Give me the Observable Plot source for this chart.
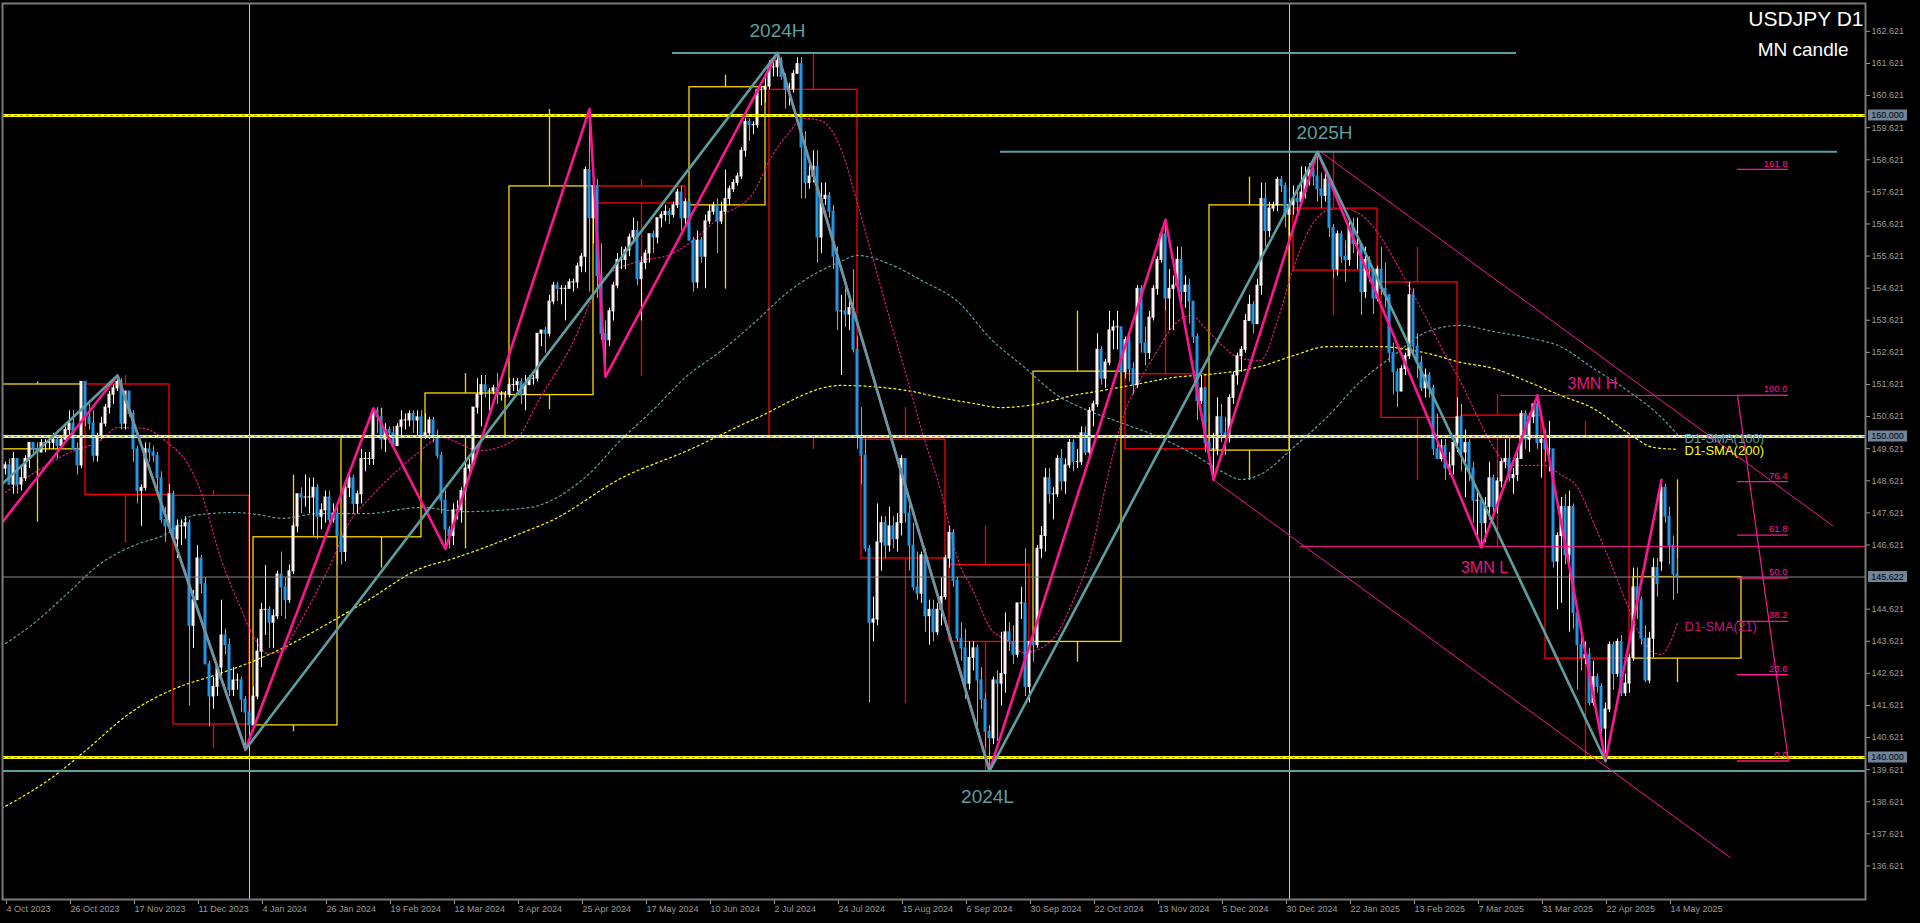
<!DOCTYPE html>
<html><head><meta charset="utf-8">
<script src="https://cdn.jsdelivr.net/npm/d3@7"></script>
<script src="https://cdn.jsdelivr.net/npm/@observablehq/plot@0.6"></script>
<style>
html,body{margin:0;padding:0;background:#000;overflow:hidden;}
#chart svg{display:block;}
</style></head><body><div id="chart"></div>
<script>
// ---------- DAILY CANDLES [open, high, low, close] ----------
const oct2023 = [[149.0,149.2,148.8,149.1],[149.1,149.3,148.5,148.5],[148.5,149.5,148.2,149.3],
[149.3,149.3,148.2,148.5],[148.5,149.1,148.3,148.7],[148.7,149.4,148.6,149.3],[149.3,149.8,149.0,149.8],[149.8,149.8,149.4,149.6],
[149.6,149.8,149.3,149.5],[149.5,149.9,149.5,149.8],[149.8,149.9,149.5,149.8],[149.8,150.0,149.6,149.8],[149.8,150.1,149.6,149.9],
[149.9,150.0,149.3,149.7],[149.7,150.0,149.6,149.9],[149.9,150.3,149.8,150.2],[150.2,150.8,150.0,150.4],[150.4,150.8,149.6,149.6],
[149.6,149.8,148.8,149.1],[149.1,151.7,149.0,151.7]];
const nov2023 = [[151.7,151.7,150.3,150.6],[150.6,151.0,150.2,150.4],[150.4,150.8,149.2,149.4],
[149.4,150.1,149.2,150.0],[150.0,150.6,149.9,150.4],[150.4,151.0,150.3,150.9],[150.9,151.4,150.7,151.3],[151.3,151.6,151.0,151.5],
[151.5,151.9,151.4,151.7],[151.7,151.8,150.2,150.4],[150.4,151.4,150.2,151.4],[151.4,151.4,150.6,150.7],[150.7,150.8,149.2,149.6],
[149.6,149.7,147.9,148.3],[148.3,148.5,147.2,148.4],[148.4,149.8,148.3,149.6],[149.6,149.8,149.2,149.5],[149.5,149.7,149.2,149.4],
[149.4,149.5,148.3,148.7],[148.7,148.9,147.3,147.4],[147.4,147.8,146.7,147.2],[147.2,148.5,147.1,148.2]];
const dec2023 = [[148.2,148.3,146.7,146.8],
[146.8,147.4,146.2,147.2],[147.2,147.4,146.6,147.2],[147.2,147.5,146.8,147.3],[147.3,147.4,141.6,144.1],[144.1,145.2,143.4,144.9],
[144.9,146.6,144.9,146.2],[146.2,146.3,145.1,145.4],[145.4,145.6,142.9,142.9],[142.9,143.0,140.95,141.9],[141.9,142.5,141.5,142.2],
[142.2,142.9,141.9,142.8],[142.8,144.9,142.5,143.8],[143.8,144.0,143.2,143.5],[143.5,143.7,141.9,142.1],[142.1,142.8,141.9,142.4],
[142.4,142.6,142.1,142.4],[142.4,142.5,141.4,141.8],[141.8,141.9,140.25,141.4],[141.4,141.4,140.9,141.0]];
const jan2024 = [[141.0,142.2,140.8,141.9],[141.9,143.7,141.8,143.3],[143.3,144.8,142.8,144.6],[144.6,145.98,143.8,144.6],
[144.6,144.7,143.4,144.2],[144.2,144.6,143.4,144.4],[144.4,145.8,144.3,145.7],[145.7,146.4,144.4,145.3],[145.3,145.6,144.3,144.9],
[144.9,146.0,144.8,145.8],[145.8,147.3,145.7,147.2],[147.2,148.2,147.0,148.2],[148.2,148.4,147.6,148.1],[148.1,148.8,147.8,148.1],
[148.1,148.7,147.6,148.1],[148.1,148.7,146.9,148.4],[148.4,148.5,146.8,147.5],[147.5,147.9,147.1,147.7],[147.7,148.3,147.3,148.1],
[148.1,148.3,147.2,147.4],[147.4,147.9,147.3,147.6],[147.6,147.8,146.0,146.9]];
const feb2024 = [[146.9,147.0,146.0,146.4],[146.4,148.6,146.1,148.4],
[148.4,148.9,148.1,148.7],[148.7,148.8,147.6,147.9],[147.9,148.3,147.6,148.2],[148.2,149.6,147.9,149.3],[149.3,149.5,148.9,149.3],
[149.3,149.5,149.1,149.3],[149.3,150.9,149.1,150.8],[150.8,150.9,150.1,150.6],[150.6,150.7,149.6,149.9],[149.9,150.4,149.5,150.2],
[150.2,150.3,149.8,150.1],[150.1,150.3,149.6,149.7],[149.7,150.4,149.7,150.3],[150.3,150.8,150.0,150.5],[150.5,150.7,150.2,150.5],
[150.5,150.8,150.3,150.7],[150.7,150.8,150.1,150.5],[150.5,150.8,150.0,150.6],[150.6,150.8,149.2,150.0]];
const mar2024 = [[150.0,150.7,149.9,150.1],
[150.1,150.6,149.9,150.5],[150.5,150.6,149.8,150.0],[150.0,150.2,149.3,149.4],[149.4,149.5,147.6,148.0],[148.0,148.3,146.5,147.1],
[147.1,147.2,146.5,146.9],[146.9,147.9,146.6,147.7],[147.7,148.0,147.4,147.7],[147.7,148.4,147.3,148.3],[148.3,149.2,148.0,149.0],
[149.0,149.3,148.8,149.1],[149.1,150.9,149.1,150.9],[150.9,151.8,150.7,151.3],[151.3,151.9,150.3,151.6],[151.6,151.9,151.2,151.4],
[151.4,151.5,150.8,151.4],[151.4,151.6,151.3,151.5],[151.5,151.97,151.0,151.3],[151.3,151.4,151.1,151.3],[151.3,151.4,151.2,151.3]];
const apr2024 = [[151.3,151.8,151.2,151.6],[151.6,151.8,151.4,151.6],[151.6,151.8,151.4,151.7],[151.7,151.8,151.0,151.3],[151.3,151.9,150.8,151.6],
[151.6,151.9,151.6,151.8],[151.8,151.9,151.6,151.8],[151.8,153.2,151.7,153.2],[153.2,153.3,152.8,153.3],[153.3,153.4,152.6,153.2],
[153.2,154.4,153.1,154.2],[154.2,154.8,154.1,154.7],[154.7,154.8,154.2,154.6],[154.6,154.7,154.1,154.6],[154.6,154.7,153.6,154.6],
[154.6,154.9,154.6,154.8],[154.8,154.9,154.5,154.8],[154.8,155.4,154.6,155.3],[155.3,155.7,155.1,155.6],[155.6,158.4,155.1,158.3],
[158.3,160.2,154.5,156.8],[156.8,157.9,156.0,157.8]];
const may2024 = [[157.8,158.0,154.3,155.0],[155.0,156.0,153.0,153.2],[153.2,153.6,151.86,153.0],
[153.0,154.0,152.8,153.9],[153.9,154.8,153.6,154.7],[154.7,155.7,154.6,155.5],[155.5,155.9,155.2,155.5],[155.5,155.9,155.2,155.8],
[155.8,156.3,155.6,156.2],[156.2,156.8,156.0,156.4],[156.4,156.7,154.7,154.9],[154.9,155.6,153.6,155.4],[155.4,155.8,155.2,155.7],
[155.7,156.3,155.4,156.3],[156.3,156.4,155.7,156.2],[156.2,156.8,156.0,156.8],[156.8,157.0,156.5,156.9],[156.9,157.2,156.7,157.0],
[157.0,157.1,156.6,156.9],[156.9,157.3,156.8,157.2],[157.2,157.7,157.1,157.6],[157.6,157.8,156.4,156.8],[156.8,157.4,156.6,157.3]];
const jun2024 = [[157.3,157.4,156.1,156.1],[156.1,156.2,154.5,154.8],[154.8,156.4,154.6,156.1],[156.1,156.2,155.4,155.6],[155.6,156.9,154.6,156.7],
[156.7,157.2,156.6,157.0],[157.0,157.3,156.9,157.2],[157.2,157.4,155.7,156.7],[156.7,157.3,156.6,157.0],[157.0,158.3,156.9,157.4],
[157.4,157.8,157.2,157.7],[157.7,158.0,157.6,157.9],[157.9,158.2,157.8,158.1],[158.1,159.0,158.0,158.9],[158.9,159.9,158.7,159.8],
[159.8,159.9,159.2,159.7],[159.7,159.8,159.4,159.7],[159.7,160.8,159.6,160.8],[160.8,160.9,160.3,160.8],[160.8,161.3,160.4,160.9]];
const jul2024 = [[160.9,161.7,160.8,161.5],[161.5,161.7,161.2,161.5],[161.5,161.95,161.2,161.7],[161.7,161.8,161.1,161.2],[161.2,161.3,160.2,160.8],
[160.8,161.0,160.3,160.8],[160.8,161.4,160.7,161.3],[161.3,161.8,161.3,161.6],[161.6,161.8,157.4,159.0],[159.0,159.5,157.4,157.9],
[157.9,158.5,157.7,158.1],[158.1,158.9,157.9,158.4],[158.4,158.9,155.4,156.2],[156.2,157.9,155.7,157.4],[157.4,157.9,157.2,157.5],
[157.5,157.6,156.8,157.0],[157.0,157.2,155.2,155.6],[155.6,155.9,153.3,153.9],[153.9,154.4,151.9,153.9],[153.9,154.6,153.4,153.8],
[153.8,154.3,153.3,154.0],[154.0,155.2,152.6,152.7],[152.7,153.1,149.6,150.0]];
const aug2024 = [[150.0,150.9,148.5,149.4],[149.4,149.9,146.4,146.5],
[146.5,146.6,141.7,144.2],[144.2,145.0,143.6,144.3],[144.3,147.9,144.1,146.7],[146.7,147.5,145.8,147.3],[147.3,147.5,146.2,146.6],
[146.6,147.8,146.4,147.2],[147.2,147.5,146.5,146.8],[146.8,147.6,146.4,147.3],[147.3,149.4,146.9,149.3],[149.3,149.3,147.3,147.6],
[147.6,148.0,145.8,146.6],[146.6,147.3,145.2,145.3],[145.3,146.4,144.9,145.1],[145.1,146.4,144.8,146.3],[146.3,146.5,143.9,144.4],
[144.4,144.9,143.5,144.6],[144.6,144.9,143.6,143.9],[143.9,144.8,143.8,144.6],[144.6,145.6,144.1,145.0],[145.0,146.3,144.9,146.2]];
const sep2024 = [[146.2,147.2,145.9,147.0],[147.0,147.1,145.3,145.5],[145.5,145.6,143.6,143.7],[143.7,144.2,143.0,143.4],[143.4,144.0,141.8,142.3],
[142.3,143.6,142.1,143.1],[143.1,143.6,142.7,143.4],[143.4,143.5,140.7,142.4],[142.4,142.8,141.5,141.8],[141.8,142.0,140.3,140.8],
[140.8,141.0,139.58,140.6],[140.6,142.5,140.4,142.4],[142.4,142.7,140.5,142.3],[142.3,143.9,141.6,142.6],[142.6,144.5,142.0,143.9],
[143.9,144.2,143.3,143.6],[143.6,144.1,142.9,143.2],[143.2,144.8,143.1,144.8],[144.8,145.3,144.3,144.8],[144.8,146.5,141.9,142.2],
[142.2,143.6,141.7,143.6]];
const oct2024 = [[143.6,144.0,142.97,143.5],[143.5,146.6,143.4,146.5],[146.5,147.2,146.2,146.9],[146.9,149.0,146.4,148.7],
[148.7,149.0,147.9,148.2],[148.2,148.4,147.4,148.2],[148.2,149.4,148.1,149.3],[149.3,149.6,148.3,148.6],[148.6,149.3,148.2,149.1],
[149.1,149.9,149.0,149.8],[149.8,149.9,148.9,149.2],[149.2,149.6,149.0,149.2],[149.2,150.3,149.1,150.1],[150.1,150.3,149.4,149.5],
[149.5,150.9,149.3,150.8],[150.8,151.1,150.3,151.0],[151.0,153.2,150.9,152.7],[152.7,152.8,151.6,151.8],[151.8,152.4,151.5,152.3],
[152.3,153.9,152.2,153.3],[153.3,153.6,152.7,153.4],[153.4,153.9,152.7,153.4],[153.4,153.4,151.6,152.0]];
const nov2024 = [[152.0,153.1,151.8,153.0],
[153.0,153.2,151.7,152.1],[152.1,152.3,151.3,151.6],[151.6,154.7,151.5,154.6],[154.6,154.7,152.6,152.9],[152.9,153.4,152.2,152.6],
[152.6,153.9,152.4,153.7],[153.7,154.7,153.6,154.6],[154.6,155.6,154.4,155.5],[155.5,156.4,155.4,156.3],[156.3,156.75,153.9,154.3],
[154.3,155.2,153.3,154.6],[154.6,155.0,153.3,154.7],[154.7,155.9,154.6,155.5],[155.5,155.9,153.9,154.5],[154.5,155.0,154.0,154.7],
[154.7,154.9,153.5,154.2],[154.2,154.2,152.9,153.1],[153.1,153.2,150.5,151.1],[151.1,151.9,151.0,151.5],[151.5,151.5,149.5,149.8]];
const dec2024 = [[149.8,150.7,149.6,149.6],[149.6,150.1,148.65,149.6],[149.6,151.2,149.4,150.6],[150.6,151.0,149.8,150.1],[150.1,150.6,149.4,150.0],
[150.0,151.3,149.8,151.2],[151.2,152.0,151.0,151.9],[151.9,152.6,151.6,152.5],[152.5,152.8,152.0,152.7],[152.7,153.8,152.6,153.6],
[153.6,154.4,153.6,154.1],[154.1,154.2,153.2,153.5],[153.5,154.9,153.5,154.7],[154.7,157.9,154.4,157.4],[157.4,157.9,155.9,156.4],
[156.4,157.3,156.2,157.1],[157.1,157.3,157.0,157.2],[157.2,158.08,157.0,158.0],[158.0,158.1,157.6,157.8],[157.8,157.9,156.5,156.9],
[156.9,157.4,156.2,157.2]];
const jan2025 = [[157.2,157.8,156.9,157.4],[157.4,157.8,157.0,157.3],
[157.3,158.4,157.2,157.6],[157.6,158.4,157.4,158.1],[158.1,158.5,157.8,158.3],[158.3,158.5,157.8,158.1],[158.1,158.87,157.3,157.7],
[157.7,158.2,157.1,157.5],[157.5,158.2,157.3,158.0],[158.0,158.1,156.2,156.5],[156.5,156.6,154.9,155.2],[155.2,156.4,155.0,156.3],
[156.3,156.4,155.4,155.6],[155.6,156.1,154.8,155.5],[155.5,156.8,155.3,156.5],[156.5,156.8,155.7,156.0],[156.0,156.8,155.2,156.0],
[156.0,156.0,153.77,154.5],[154.5,155.9,154.3,155.5],[155.5,155.6,154.8,155.2],[155.2,155.2,153.8,154.3],[154.3,155.3,154.2,155.2]];
const feb2025 = [[155.2,155.89,154.4,154.6],[154.6,155.4,154.0,154.4],[154.4,154.4,152.3,152.6],[152.6,152.9,151.3,152.0],[152.0,152.1,150.9,151.4],
[151.4,152.2,151.4,152.1],[152.1,152.6,151.9,152.5],[152.5,154.8,152.4,154.4],[154.4,154.6,152.6,152.8],[152.8,153.2,151.8,152.3],
[152.3,152.5,151.4,151.5],[151.5,152.1,151.2,151.9],[151.9,152.0,151.2,151.5],[151.5,151.6,149.4,149.6],[149.6,150.7,149.3,149.3],
[149.3,149.9,149.2,149.7],[149.7,149.9,148.63,149.0],[149.0,149.5,148.8,149.1],[149.1,150.0,148.8,149.8],[149.8,151.2,149.5,150.6]];
const mar2025 = [[150.6,151.0,148.9,149.5],
[149.5,150.2,148.1,149.8],[149.8,149.9,148.6,149.0],[149.0,149.2,147.3,148.0],[148.0,148.3,146.9,148.0],[148.0,148.1,146.54,147.3],
[147.3,148.1,146.7,147.8],[147.8,149.2,147.4,148.7],[148.7,148.8,147.4,147.8],[147.8,148.7,147.6,148.6],[148.6,149.3,148.4,149.2],
[149.2,149.9,149.0,149.3],[149.3,150.0,148.6,148.7],[148.7,149.0,148.2,148.8],[148.8,149.5,148.6,149.3],[149.3,150.8,149.3,150.7],
[150.7,150.8,149.6,149.9],[149.9,150.7,149.5,150.6],[150.6,151.0,150.4,151.0],[151.0,151.28,149.6,149.8],[149.8,150.0,148.7,149.9]];
const apr2025 = [[149.9,150.2,149.2,149.6],[149.6,150.47,148.9,149.6],[149.6,149.6,145.9,146.1],[146.1,147.0,144.6,146.9],
[146.9,148.1,144.8,147.8],[147.8,148.2,146.0,146.3],[146.3,148.3,143.9,147.8],[147.8,147.9,144.0,144.5],[144.5,144.6,142.1,143.5],
[143.5,143.9,142.7,143.1],[143.1,143.6,142.9,143.2],[143.2,143.4,141.6,141.7],[141.7,143.0,141.6,142.5],[142.5,142.6,142.0,142.2],
[142.2,142.3,140.6,140.9],[140.9,141.7,139.89,141.5],[141.5,143.6,141.4,143.5],[143.5,143.6,142.1,142.6],[142.6,143.7,142.5,143.6],
[143.6,143.8,141.9,142.0],[142.0,142.6,141.9,142.3],[142.3,143.2,142.0,143.1]];
const may2025 = [[143.1,145.9,143.0,145.3],[145.3,145.9,144.3,144.9],
[144.9,145.0,143.5,143.7],[143.7,144.1,142.33,142.4],[142.4,143.9,142.3,143.7],[143.7,146.2,143.1,145.9],[145.9,146.2,145.0,145.4],
[146.1,148.65,145.8,148.4],[148.4,148.5,147.3,147.5],[147.5,147.8,146.0,146.6],[146.6,146.9,144.9,145.7],[145.7,146.2,145.1,145.622]];

// ---------- MONTHLY CANDLES ("MN candle") ----------
const monthKeys = ["2023-10","2023-11","2023-12","2024-01","2024-02","2024-03","2024-04","2024-05","2024-06","2024-07","2024-08","2024-09","2024-10","2024-11","2024-12","2025-01","2025-02","2025-03","2025-04","2025-05"];
const mOpen  = [149.6,151.62,148.15,141.0,146.86,149.98,151.29,157.79,157.2,160.8,149.9,146.0,143.6,151.94,149.56,157.1,154.8,150.65,149.99,143.08];
const mHigh  = [151.7,151.9,148.32,148.8,150.88,151.96,160.19,158.0,161.26,161.94,150.9,147.21,153.9,156.76,158.08,158.87,155.89,151.32,150.47,148.65];
const mLow   = [147.33,146.68,140.27,140.8,145.9,146.5,150.84,151.87,154.59,149.6,141.68,139.6,142.97,149.53,148.63,153.77,148.63,146.57,139.89,142.33];
const mClose = [151.62,148.18,141.03,146.86,149.98,151.34,157.79,157.26,160.88,149.98,146.2,143.6,152.02,149.6,157.2,155.17,150.58,149.95,143.08,145.62];

// ---------- MOVING AVERAGES [bar index, value] ----------
const sma21 = [[0,148.26],[7,148.85],[15.5,149.47],[23.75,149.88],[28,150.28],[34.5,150.25],[40.5,149.81],[45.5,149.16],[48.75,148.32],[53.75,146.23],[58.75,144.67],[61.25,143.96],[65.5,143.24],[69.5,143.33],[72,143.86],[76.25,144.8],[80.5,145.83],[86.25,147.38],[90.5,148.01],[98.75,149.03],[103.75,149.56],[108.75,149.97],[118.75,149.56],[128,149.97],[133,151.06],[141.25,152.77],[149.5,154.92],[158,155.45],[166.25,155.67],[170.5,155.98],[178.75,156.85],[187,157.6],[191.25,158.66],[195.5,159.41],[199.5,159.91],[203.75,159.84],[208.75,159.0],[213,157.26],[217,155.48],[221.25,153.58],[225.5,151.78],[229.5,150.0],[233.75,148.35],[238,146.2],[242,145.17],[246.25,144.02],[250.5,143.64],[254.5,143.27],[258.75,143.4],[263,143.89],[267,144.92],[271.25,146.32],[275.5,148.72],[279.5,150.65],[283.75,151.78],[288,152.68],[292,153.46],[296.25,153.77],[300.5,153.3],[304.5,152.8],[308.75,152.43],[313.75,152.37],[318,153.61],[322,155.26],[326.25,156.51],[330.5,157.04],[334.5,157.1],[338.75,156.92],[343,156.36],[347,155.55],[351.25,154.58],[355.5,153.61],[359.5,152.65],[363.75,151.71],[368,150.62],[372,149.66],[376.25,149.1],[380.5,149.1],[384.5,149.1],[388.75,148.82],[393,148.41],[397,147.32],[401.25,146.07],[405.5,144.74],[409.5,143.61],[413.75,143.21],[418,144.17]];
const sma100 = [[0,143.55],[7,144.17],[15.5,145.11],[23.75,146.04],[32,146.6],[40.5,146.98],[47,147.54],[57,147.63],[61.25,147.6],[69.5,147.45],[78,147.6],[90.5,147.6],[103.75,147.79],[114.5,147.66],[131.25,147.79],[137,148.04],[145.5,148.79],[153.75,149.88],[162,150.84],[170.5,151.9],[178.75,152.65],[187,153.52],[195.5,154.49],[208.75,155.45],[213,155.64],[221.25,155.36],[229.5,154.83],[238,154.21],[246.25,153.05],[254.5,152.18],[263,151.28],[271.25,150.78],[279.5,150.4],[288,150.0],[296.25,149.5],[304.5,148.88],[308.75,148.66],[313.75,148.82],[322,149.66],[330.5,150.62],[338.75,151.71],[347,152.52],[355.5,153.27],[363.75,153.46],[372,153.27],[380.5,153.08],[388.75,152.8],[397,152.12],[405.5,151.43],[413.75,150.62],[418,150.06]];
const sma200 = [[-1,138.41],[13,139.5],[19.5,140.16],[32,141.46],[43,142.18],[52,142.55],[60.5,142.93],[68,143.33],[82,144.27],[90.5,144.89],[103.75,145.89],[111.25,146.17],[128.75,146.98],[137,147.41],[153.75,148.69],[170.5,149.56],[187,150.53],[208.75,151.59],[225.5,151.43],[233.75,151.21],[242,151.03],[248.75,150.9],[258.75,151.03],[267,151.28],[275.5,151.46],[283.75,151.65],[292,151.84],[300.5,151.93],[313.75,152.18],[322,152.52],[330.5,152.8],[343,152.8],[355.5,152.59],[363.75,152.31],[372,152.12],[380.5,151.71],[388.75,151.28],[397,150.87],[405.5,150.12],[412,149.66],[418,149.6]];

// ---------- ZIGZAGS [bar index, price] ----------
const zigzagPink = [[-1,147.3],[28,151.9],[60,140.25],[92,150.88],[110,146.5],[146,160.2],[150,151.86],[193,161.95],[246,139.58],[290,156.75],[302,148.65],[328,158.87],[369,146.54],[383,151.28],[400,139.89],[414,148.65]];
const zigzagTeal = [[-1,148.5],[28,151.9],[60,140.25],[193,161.95],[246,139.58],[328,158.87],[400,139.89]];

// ---------- LEVELS & ANNOTATIONS ----------
const roundLevels = [160, 150, 140];
const bidPrice = 145.622;
const low2024 = {name: "2024L", p: 139.58, at: 246};
const high2024 = {name: "2024H", p: 161.95, i1: 166.75, i2: 377.75, at: 193};
const high2025 = {name: "2025H", p: 158.87, i1: 248.75, i2: 458, at: 328};
const mnHigh = {name: "3MN H", p: 151.28, i1: 373.75, i2: 445.75, at: 383};
const mnLow = {name: "3MN L", p: 146.57, i1: 323.75, i2: 465, at: 369};
const channel = [{i1: 329, p1: 158.85, i2: 457, p2: 147.2}, {i1: 302, p1: 148.65, i2: 431.25, p2: 136.88}];
const fibLevels = [0, 23.6, 38.2, 50, 61.8, 76.4, 100, 161.8];
const fibLow = 139.89, fibHigh = 151.28, fibI1 = 433, fibI2 = 445.75;
const yearStarts = ["2024-01-01", "2025-01-01"];
const xTickLabels = ["4 Oct 2023","26 Oct 2023","17 Nov 2023","11 Dec 2023","4 Jan 2024","26 Jan 2024","19 Feb 2024","12 Mar 2024","3 Apr 2024","25 Apr 2024","17 May 2024","10 Jun 2024","2 Jul 2024","24 Jul 2024","15 Aug 2024","6 Sep 2024","30 Sep 2024","22 Oct 2024","13 Nov 2024","5 Dec 2024","30 Dec 2024","22 Jan 2025","13 Feb 2025","7 Mar 2025","31 Mar 2025","22 Apr 2025","14 May 2025"];
const yTicks = [136.621,137.621,138.621,139.621,140.621,141.621,142.621,143.621,144.621,146.621,147.621,148.621,149.621,150.621,151.621,152.621,153.621,154.621,155.621,156.621,157.621,158.621,159.621,160.621,161.621,162.621];
const priceTags = [160, 150, 140, 145.622];

// ---------- BUILD ----------
const W = 1920, H = 923, ML = 2, MR = 55, MT = 3, MB = 24;
const DAY = 864e5;
const calendar = [];
for (let t = Date.UTC(2023, 9, 2), k = -2; t <= Date.UTC(2025, 4, 16); t += DAY) {
  const d = new Date(t), wd = d.getUTCDay(), m = d.getUTCMonth(), dd = d.getUTCDate();
  if (wd === 0 || wd === 6 || (m === 11 && dd === 25) || (m === 0 && dd === 1)) continue;
  calendar.push({date: d, i: k++});
}
const daily = [].concat(oct2023, nov2023, dec2023, jan2024, feb2024, mar2024, apr2024, may2024, jun2024, jul2024, aug2024, sep2024, oct2024, nov2024, dec2024, jan2025, feb2025, mar2025, apr2025, may2025);
const candles = daily.map((r, j) => ({i: j, o: r[0], h: r[1], l: r[2], c: r[3]}));
const bull = candles.filter(d => d.c >= d.o), bear = candles.filter(d => d.c < d.o);

const months = monthKeys.map((key, j) => {
  const [yy, mm] = key.split("-").map(Number);
  const inMonth = calendar.filter(b => b.date.getUTCFullYear() === yy && b.date.getUTCMonth() === mm - 1);
  const last = inMonth[inMonth.length - 1];
  let i2 = last.i;
  if (j === monthKeys.length - 1) i2 += Math.round((Date.UTC(yy, mm, 1) - last.date) / DAY);
  const dim = new Date(Date.UTC(yy, mm, 0)).getUTCDate();
  const midDay = Math.floor((1 + dim) / 2);
  const mid = inMonth.filter(b => b.date.getUTCDate() <= midDay).pop().i;
  const o = mOpen[j], c = mClose[j];
  return {i1: inMonth[0].i, i2, mid, o, h: mHigh[j], l: mLow[j], c, top: Math.max(o, c), bot: Math.min(o, c), up: c >= o};
});
const yearBars = yearStarts.map(s => calendar.filter(b => b.date < new Date(s + "T00:00:00Z")).pop().i);
const fibs = fibLevels.map(l => ({l, p: fibLow + (fibHigh - fibLow) * l / 100}));
const pts = a => a.map(([i, v]) => ({i, v}));
const lastPt = a => ({i: a[a.length - 1][0], v: a[a.length - 1][1]});

const PINK = "#ff1493", TEAL = "#5f9ea0", GOLD = "#ffd700", RED = "#ff0000", YEL = "#ffff00";
const AX = "Liberation Sans, Arial, sans-serif";

const plot = Plot.plot({
  width: W, height: H,
  marginLeft: ML, marginRight: MR, marginTop: MT, marginBottom: MB,
  x: {type: "linear", domain: [-0.75, 465], axis: null},
  y: {type: "linear", domain: [135.576, 163.489], axis: null},
  style: {background: "#000", color: "#9a9a9a", fontFamily: "Liberation Sans, Arial, sans-serif"},
  marks: [
    // monthly candles
    Plot.rect(months.filter(d => d.up), {x1: "i1", x2: "i2", y1: "bot", y2: "top", fill: "none", stroke: GOLD, strokeWidth: 1.3, clip: true}),
    Plot.rect(months.filter(d => !d.up), {x1: "i1", x2: "i2", y1: "bot", y2: "top", fill: "none", stroke: RED, strokeWidth: 1.3, clip: true}),
    Plot.ruleX(months.filter(d => d.up), {x: "mid", y1: "top", y2: "h", stroke: GOLD, strokeWidth: 1.3, clip: true}),
    Plot.ruleX(months.filter(d => d.up), {x: "mid", y1: "bot", y2: "l", stroke: GOLD, strokeWidth: 1.3, clip: true}),
    Plot.ruleX(months.filter(d => !d.up), {x: "mid", y1: "top", y2: "h", stroke: RED, strokeWidth: 1.3, clip: true}),
    Plot.ruleX(months.filter(d => !d.up), {x: "mid", y1: "bot", y2: "l", stroke: RED, strokeWidth: 1.3, clip: true}),
    // year separators
    Plot.ruleX(yearBars, {stroke: "#e8e000", strokeWidth: 1}),
    // moving averages
    Plot.line(pts(sma200), {x: "i", y: "v", stroke: YEL, strokeWidth: 1.2, strokeDasharray: "2,3", curve: "monotone-x", clip: true}),
    Plot.line(pts(sma100), {x: "i", y: "v", stroke: TEAL, strokeWidth: 1.2, strokeDasharray: "2,3", curve: "monotone-x", clip: true}),
    Plot.line(pts(sma21), {x: "i", y: "v", stroke: "#e0187f", strokeWidth: 1.2, strokeDasharray: "1.5,2.5", curve: "monotone-x", clip: true}),
    // daily candles
    Plot.ruleX(bull, {x: "i", y1: "l", y2: "h", stroke: "#ffffff", strokeWidth: 1}),
    Plot.ruleX(bear, {x: "i", y1: "l", y2: "h", stroke: "#40d0dc", strokeWidth: 1}),
    Plot.rect(bull, {x1: d => d.i - 0.375, x2: d => d.i + 0.375, y1: "o", y2: "c", fill: "#fff4f4", insetTop: -0.5, insetBottom: -0.5}),
    Plot.rect(bear, {x1: d => d.i - 0.375, x2: d => d.i + 0.375, y1: "o", y2: "c", fill: "#2196e6", insetTop: -0.5, insetBottom: -0.5}),
    // horizontal levels
    Plot.ruleY([low2024.p], {stroke: TEAL, strokeWidth: 2}),
    Plot.ruleY([high2024, high2025], {y: "p", x1: "i1", x2: "i2", stroke: TEAL, strokeWidth: 2}),
    Plot.ruleY([bidPrice], {stroke: "#8a8a8a", strokeWidth: 1}),
    Plot.ruleY(roundLevels, {stroke: YEL, strokeWidth: 3}),
    Plot.ruleY(roundLevels, {stroke: "#6f8199", strokeWidth: 1, strokeDasharray: "3,3"}),
    Plot.ruleY([mnHigh, mnLow], {y: "p", x1: "i1", x2: "i2", stroke: PINK, strokeWidth: 1}),
    // channel
    Plot.link(channel, {x1: "i1", y1: "p1", x2: "i2", y2: "p2", stroke: PINK, strokeWidth: 1, clip: true}),
    // fibonacci
    Plot.ruleY(fibs, {y: "p", x1: fibI1, x2: fibI2, stroke: PINK, strokeWidth: 1.3}),
    Plot.link([0], {x1: fibI1, y1: fibHigh, x2: fibI2, y2: fibLow, stroke: PINK, strokeWidth: 1.2}),
    Plot.text(fibs, {x: fibI2, y: "p", text: d => d3.format(".1f")(d.l), textAnchor: "end", dy: -6, dx: -1, fill: PINK, fontSize: 9.5}),
    // zigzags
    Plot.line(pts(zigzagPink), {x: "i", y: "v", stroke: PINK, strokeWidth: 2.6, clip: true}),
    Plot.line(pts(zigzagTeal), {x: "i", y: "v", stroke: TEAL, strokeWidth: 2.6, clip: true}),
    // labels
    Plot.text([high2024], {x: "at", y: "p", text: "name", dy: -22, dx: 0, fill: TEAL, fontSize: 19}),
    Plot.text([high2025], {x: "at", y: "p", text: "name", dy: -19, dx: 7, fill: TEAL, fontSize: 19}),
    Plot.text([low2024], {x: "at", y: "p", text: "name", dy: 26, dx: -2, fill: TEAL, fontSize: 19}),
    Plot.text([mnHigh], {x: "at", y: "p", text: "name", dx: 55, dy: -12, fill: "#e8177f", fontSize: 16}),
    Plot.text([mnLow], {x: "at", y: "p", text: "name", dx: 3, dy: 21, fill: "#e8177f", fontSize: 16}),
    Plot.text([lastPt(sma100)], {x: d => d.i + 1.75, y: "v", text: () => "D1-SMA(100)", dy: 4, textAnchor: "start", fill: TEAL, fontSize: 13}),
    Plot.text([lastPt(sma200)], {x: d => d.i + 1.75, y: "v", text: () => "D1-SMA(200)", dy: 1, textAnchor: "start", fill: YEL, fontSize: 13}),
    Plot.text([lastPt(sma21)], {x: d => d.i + 1.75, y: "v", text: () => "D1-SMA(21)", dy: 3, textAnchor: "start", fill: "#c8157a", fontSize: 13}),
    Plot.text(["USDJPY D1"], {frameAnchor: "top-right", text: d => d, dx: -2, dy: 16, lineAnchor: "middle", textAnchor: "end", fill: "#ffffff", fontSize: 21}),
    Plot.text(["MN candle"], {frameAnchor: "top-right", text: d => d, dx: -17, dy: 46, lineAnchor: "middle", textAnchor: "end", fill: "#ffffff", fontSize: 19}),
    // axes & frame
    Plot.axisY(yTicks, {anchor: "right", tickSize: 4, tickPadding: 2, tickFormat: d3.format(".3f"), fontSize: 9, fontFamily: AX, label: null}),
    Plot.axisX(xTickLabels.map((_, k) => k * 16), {anchor: "bottom", tickSize: 5, tickPadding: 1, tickFormat: d => xTickLabels[d / 16], textAnchor: "start", dx: 1, fontSize: 9, fontFamily: AX, label: null}),
    Plot.frame({stroke: "#7a7a7a", strokeWidth: 2})
  ]
});

// price tags on the right scale (through the plot's own y scale)
const ys = plot.scale("y");
const svg = d3.select(plot);
const tagX = W - MR + 3;
const tags = svg.append("g");
for (const v of priceTags) {
  const y = ys.apply(v);
  tags.append("rect").attr("x", tagX).attr("y", y - 5.5).attr("width", 39).attr("height", 11).attr("fill", "#71849a");
  tags.append("text").attr("x", tagX + 19.5).attr("y", y).attr("dy", "0.36em").attr("text-anchor", "middle")
    .attr("font-family", AX).attr("font-size", 9).attr("fill", "#000").text(d3.format(".3f")(v));
}
if (daily.length !== 419) {
  svg.append("text").attr("x", 600).attr("y", 450).attr("fill", "red").attr("font-size", 40).text("COUNT " + daily.length);
}
document.getElementById("chart").appendChild(plot);
</script></body></html>
